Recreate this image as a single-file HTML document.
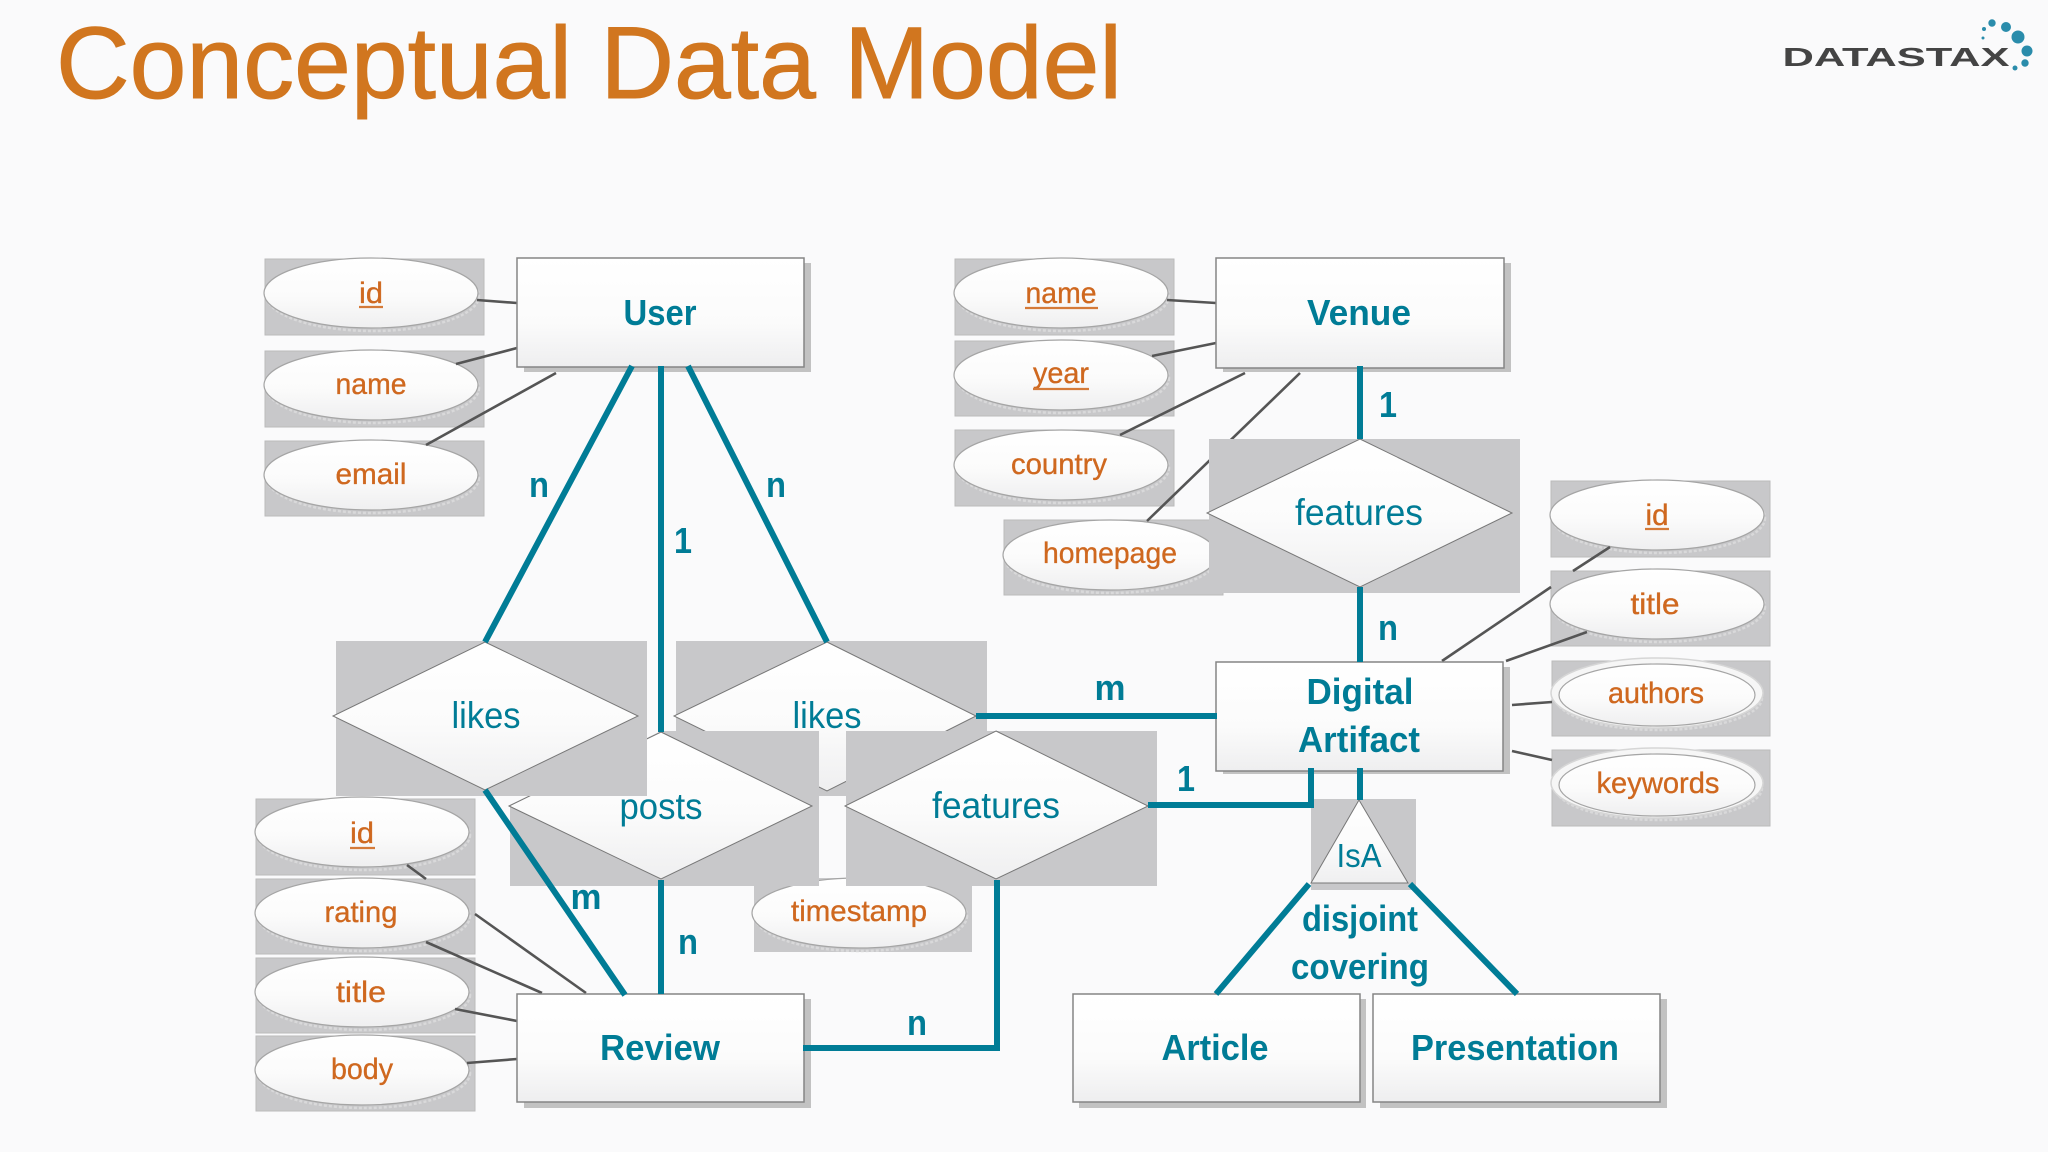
<!DOCTYPE html>
<html><head><meta charset="utf-8"><title>Conceptual Data Model</title>
<style>
html,body{margin:0;padding:0;background:#fafafb;width:2048px;height:1152px;overflow:hidden}
svg{display:block}
text{font-family:"Liberation Sans",sans-serif;text-anchor:middle}
.g{fill:#c8c8ca;stroke:#bbb;stroke-width:1}
.gr{fill:#c8c8ca}
.el{fill:url(#eg);stroke:#a5a5a5;stroke-width:1.2}
.o{fill:#f6f6f6;stroke:#d6d6d6;stroke-width:1.5}
.sh{fill:none;stroke:#d9d9da;stroke-width:2.5;stroke-dasharray:3 2}
.attr{font-size:30px;fill:#cf681f;stroke:#cf681f;stroke-width:.35px}
.ent{font-size:36px;font-weight:bold;fill:#007c96}
.rel{font-size:37px;fill:#007c96}
.card{font-size:36px;font-weight:bold;fill:#007c96}
.box{fill:url(#bg);stroke:#858585;stroke-width:1.5}
.bs{fill:#c2c2c2}
.d{fill:url(#eg);stroke:#777;stroke-width:1}
.l{stroke:#555;stroke-width:2.6;fill:none}
.t{stroke:#007c96;stroke-width:6;fill:none}
.u{stroke:#d57a38;stroke-width:2.2}
</style></head>
<body>
<svg width="2048" height="1152" viewBox="0 0 2048 1152" xmlns="http://www.w3.org/2000/svg">
<defs>
<linearGradient id="eg" x1="0" y1="0" x2="0" y2="1"><stop offset="0" stop-color="#ffffff"/><stop offset="0.55" stop-color="#fbfbfb"/><stop offset="1" stop-color="#efeff0"/></linearGradient>
<linearGradient id="bg" x1="0" y1="0" x2="0" y2="1"><stop offset="0" stop-color="#ffffff"/><stop offset="0.6" stop-color="#fbfbfb"/><stop offset="1" stop-color="#eeeeef"/></linearGradient>
</defs>
<rect width="2048" height="1152" fill="#fafafb"/>

<text x="589" y="98" font-size="102" fill="#d1761f" stroke="#d1761f" stroke-width="1" textLength="1066" lengthAdjust="spacingAndGlyphs">Conceptual Data Model</text>

<text x="1896" y="66" font-size="26" fill="#444" textLength="227" lengthAdjust="spacingAndGlyphs" font-weight="bold">DATASTAX</text>
<g fill="#2a8cab">
<circle cx="1992" cy="23" r="3.7"/><circle cx="2006" cy="27" r="5"/><circle cx="2018" cy="37" r="6.5"/><circle cx="2027" cy="51" r="5.5"/><circle cx="2025" cy="63" r="3.7"/><circle cx="2015" cy="68" r="2.5"/><circle cx="1984" cy="29" r="2"/><circle cx="1983" cy="38" r="1.5"/>
</g>

<!-- User attributes -->
<rect class="g" x="265" y="259" width="219" height="76"/><ellipse class="sh" cx="373" cy="296" rx="106" ry="35"/><ellipse class="el" cx="371" cy="293" rx="107" ry="35"/>
<rect class="g" x="265" y="351" width="219" height="76"/><ellipse class="sh" cx="373" cy="388" rx="106" ry="35"/><ellipse class="el" cx="371" cy="385" rx="107" ry="35"/>
<rect class="g" x="265" y="441" width="219" height="75"/><ellipse class="sh" cx="373" cy="478" rx="106" ry="35"/><ellipse class="el" cx="371" cy="475" rx="107" ry="35"/>
<text class="attr" x="371" y="303" textLength="24" lengthAdjust="spacingAndGlyphs">id</text><line class="u" x1="359" y1="307" x2="383" y2="307"/>
<text class="attr" x="371" y="394" textLength="71" lengthAdjust="spacingAndGlyphs">name</text>
<text class="attr" x="371" y="484" textLength="71" lengthAdjust="spacingAndGlyphs">email</text>

<!-- Venue attributes -->
<rect class="g" x="955" y="259" width="219" height="76"/><ellipse class="sh" cx="1063" cy="296" rx="106" ry="35"/><ellipse class="el" cx="1061" cy="293" rx="107" ry="35"/>
<rect class="g" x="955" y="341" width="219" height="75"/><ellipse class="sh" cx="1063" cy="378" rx="106" ry="35"/><ellipse class="el" cx="1061" cy="375" rx="107" ry="35"/>
<rect class="g" x="955" y="430" width="219" height="76"/><ellipse class="sh" cx="1063" cy="468" rx="106" ry="35"/><ellipse class="el" cx="1061" cy="465" rx="107" ry="35"/>
<rect class="g" x="1004" y="520" width="219" height="75"/><ellipse class="sh" cx="1111" cy="558" rx="106" ry="35"/><ellipse class="el" cx="1110" cy="555" rx="107" ry="35"/>
<text class="attr" x="1061" y="303" textLength="71" lengthAdjust="spacingAndGlyphs">name</text><line class="u" x1="1025" y1="308" x2="1098" y2="308"/>
<text class="attr" x="1061" y="383" textLength="56" lengthAdjust="spacingAndGlyphs">year</text><line class="u" x1="1033" y1="389" x2="1089" y2="389"/>
<text class="attr" x="1059" y="474" textLength="96" lengthAdjust="spacingAndGlyphs">country</text>
<text class="attr" x="1110" y="563" textLength="134" lengthAdjust="spacingAndGlyphs">homepage</text>

<!-- Digital Artifact attributes -->
<rect class="g" x="1551" y="481" width="219" height="76"/><ellipse class="sh" cx="1659" cy="518" rx="106" ry="35"/><ellipse class="el" cx="1657" cy="515" rx="107" ry="35"/>
<rect class="g" x="1551" y="571" width="219" height="75"/><ellipse class="sh" cx="1659" cy="607" rx="106" ry="35"/><ellipse class="el" cx="1657" cy="604" rx="107" ry="35"/>
<rect class="g" x="1552" y="661" width="218" height="75"/><ellipse class="sh" cx="1659" cy="698" rx="103" ry="32"/><ellipse class="o" cx="1657" cy="693" rx="106" ry="35"/><ellipse class="el" cx="1657" cy="695" rx="98" ry="31"/>
<rect class="g" x="1552" y="750" width="218" height="76"/><ellipse class="sh" cx="1659" cy="788" rx="103" ry="32"/><ellipse class="o" cx="1657" cy="783" rx="106" ry="35"/><ellipse class="el" cx="1657" cy="785" rx="98" ry="31"/>
<text class="attr" x="1657" y="525" textLength="23" lengthAdjust="spacingAndGlyphs">id</text><line class="u" x1="1645" y1="529" x2="1669" y2="529"/>
<text class="attr" x="1655" y="614" textLength="49" lengthAdjust="spacingAndGlyphs">title</text>
<text class="attr" x="1656" y="703" textLength="96" lengthAdjust="spacingAndGlyphs">authors</text>
<text class="attr" x="1658" y="793" textLength="123" lengthAdjust="spacingAndGlyphs">keywords</text>

<!-- Review attributes -->
<rect class="g" x="256" y="799" width="219" height="76"/><ellipse class="sh" cx="364" cy="835" rx="106" ry="35"/><ellipse class="el" cx="362" cy="832" rx="107" ry="35"/>
<rect class="g" x="256" y="879" width="219" height="75"/><ellipse class="sh" cx="364" cy="916" rx="106" ry="35"/><ellipse class="el" cx="362" cy="913" rx="107" ry="35"/>
<rect class="g" x="256" y="958" width="219" height="75"/><ellipse class="sh" cx="364" cy="995" rx="106" ry="35"/><ellipse class="el" cx="362" cy="992" rx="107" ry="35"/>
<rect class="g" x="256" y="1036" width="219" height="75"/><ellipse class="sh" cx="364" cy="1073" rx="106" ry="35"/><ellipse class="el" cx="362" cy="1070" rx="107" ry="35"/>
<text class="attr" x="362" y="843" textLength="24" lengthAdjust="spacingAndGlyphs">id</text><line class="u" x1="350" y1="848" x2="375" y2="848"/>
<text class="attr" x="361" y="922" textLength="73" lengthAdjust="spacingAndGlyphs">rating</text>
<text class="attr" x="361" y="1002" textLength="50" lengthAdjust="spacingAndGlyphs">title</text>
<text class="attr" x="362" y="1079" textLength="62" lengthAdjust="spacingAndGlyphs">body</text>

<!-- Attribute connectors -->
<path class="l" d="M477 300L517 303M456 364L517 348M426 445L556 373"/>
<path class="l" d="M1167 300L1216 303M1152 356L1216 343M1120 435L1245 373M1147 521L1300 373"/>
<path class="l" d="M1610 547L1573 571M1551 587L1442 661M1587 632L1506 661M1512 705L1552 702M1512 751L1552 760"/>
<path class="l" d="M407 865L426 879M475 914L586 993M426 942L542 993M455 1009L517 1021M467 1063L517 1059"/>

<!-- timestamp -->
<rect class="gr" x="754" y="878" width="218" height="74"/>
<ellipse class="sh" cx="861" cy="916" rx="106" ry="35"/><ellipse class="el" cx="859" cy="913" rx="107" ry="35"/>
<text class="attr" x="859" y="921" textLength="136" lengthAdjust="spacingAndGlyphs">timestamp</text>

<!-- likes right -->
<rect class="gr" x="676" y="641" width="311" height="155"/>
<polygon class="d" points="827,642 976,716 827,791 674,716"/>
<text class="rel" x="827" y="728" textLength="69" lengthAdjust="spacingAndGlyphs">likes</text>

<!-- posts -->
<polygon class="gr" points="661,731 819,731 819,886 510,886 510,806"/>
<polygon class="d" points="661,732 812,806 661,879 509,806"/>
<text class="rel" x="661" y="819" textLength="83" lengthAdjust="spacingAndGlyphs">posts</text>

<!-- features lower -->
<rect class="gr" x="846" y="731" width="311" height="155"/>
<polygon class="d" points="996,731 1148,806 996,879 845,806"/>
<text class="rel" x="996" y="818" textLength="128" lengthAdjust="spacingAndGlyphs">features</text>

<!-- likes left -->
<rect class="gr" x="336" y="641" width="311" height="155"/>
<polygon class="d" points="485,642 638,716 485,790 333,716"/>
<text class="rel" x="486" y="728" textLength="69" lengthAdjust="spacingAndGlyphs">likes</text>

<!-- features upper -->
<rect class="gr" x="1209" y="439" width="311" height="154"/>
<polygon class="d" points="1360,439 1512,513 1360,587 1207,513"/>
<text class="rel" x="1359" y="525" textLength="128" lengthAdjust="spacingAndGlyphs">features</text>

<!-- IsA -->
<rect class="gr" x="1311" y="799" width="105" height="91"/>
<polygon class="d" points="1359,800 1408,883 1311,883"/>
<text class="rel" x="1359" y="867" style="font-size:33px" textLength="45" lengthAdjust="spacingAndGlyphs">IsA</text>

<!-- Entities -->
<rect class="bs" x="524" y="263" width="287" height="109"/><rect class="box" x="517" y="258" width="287" height="109"/>
<text class="ent" x="660" y="325" textLength="73" lengthAdjust="spacingAndGlyphs">User</text>
<rect class="bs" x="1223" y="263" width="288" height="109"/><rect class="box" x="1216" y="258" width="288" height="110"/>
<text class="ent" x="1359" y="325" textLength="104" lengthAdjust="spacingAndGlyphs">Venue</text>
<rect class="bs" x="1223" y="667" width="287" height="107"/><rect class="box" x="1216" y="662" width="287" height="109"/>
<text class="ent" x="1360" y="704" textLength="107" lengthAdjust="spacingAndGlyphs">Digital</text>
<text class="ent" x="1359" y="752" textLength="122" lengthAdjust="spacingAndGlyphs">Artifact</text>
<rect class="bs" x="524" y="999" width="287" height="109"/><rect class="box" x="517" y="994" width="287" height="108"/>
<text class="ent" x="660" y="1060" textLength="120" lengthAdjust="spacingAndGlyphs">Review</text>
<rect class="bs" x="1079" y="999" width="287" height="109"/><rect class="box" x="1073" y="994" width="287" height="108"/>
<text class="ent" x="1215" y="1060" textLength="107" lengthAdjust="spacingAndGlyphs">Article</text>
<rect class="bs" x="1380" y="999" width="287" height="109"/><rect class="box" x="1373" y="994" width="287" height="108"/>
<text class="ent" x="1515" y="1060" textLength="208" lengthAdjust="spacingAndGlyphs">Presentation</text>

<!-- Teal connectors -->
<path class="t" d="M632 366L485 642M661 366V732M688 366L827 642"/>
<path class="t" d="M485 790L625 995M661 880V994"/>
<path class="t" d="M803 1048H997V880"/>
<path class="t" d="M976 716H1217"/>
<path class="t" d="M1360 366V439M1360 587V662"/>
<path class="t" d="M1148 805H1311V768"/>
<path class="t" d="M1360 768V800"/>
<path class="t" d="M1309 884L1216 994M1410 884L1517 994"/>

<!-- Cardinality labels -->
<text class="card" x="539" y="497" textLength="20" lengthAdjust="spacingAndGlyphs">n</text>
<text class="card" x="776" y="497" textLength="20" lengthAdjust="spacingAndGlyphs">n</text>
<text class="card" x="683" y="553" textLength="18" lengthAdjust="spacingAndGlyphs">1</text>
<text class="card" x="1388" y="417" textLength="18" lengthAdjust="spacingAndGlyphs">1</text>
<text class="card" x="1388" y="640" textLength="20" lengthAdjust="spacingAndGlyphs">n</text>
<text class="card" x="1110" y="700" textLength="31" lengthAdjust="spacingAndGlyphs">m</text>
<text class="card" x="1186" y="791" textLength="18" lengthAdjust="spacingAndGlyphs">1</text>
<text class="card" x="586" y="909" textLength="31" lengthAdjust="spacingAndGlyphs">m</text>
<text class="card" x="688" y="954" textLength="20" lengthAdjust="spacingAndGlyphs">n</text>
<text class="card" x="917" y="1035" textLength="20" lengthAdjust="spacingAndGlyphs">n</text>
<text class="ent" x="1360" y="931" textLength="116" lengthAdjust="spacingAndGlyphs">disjoint</text>
<text class="ent" x="1360" y="979" textLength="138" lengthAdjust="spacingAndGlyphs">covering</text>
</svg>
</body></html>
